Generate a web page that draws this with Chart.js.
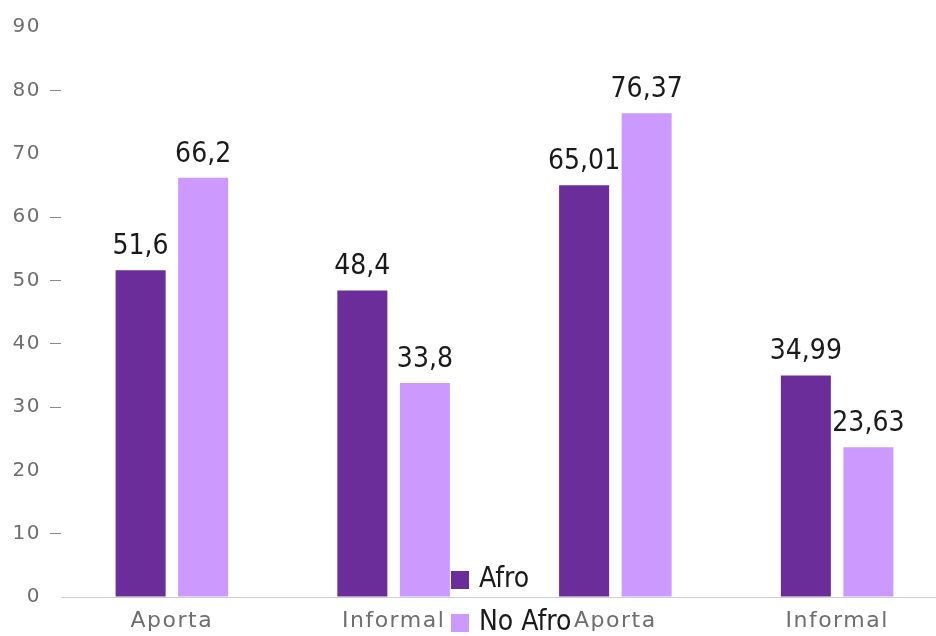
<!DOCTYPE html>
<html>
<head>
<meta charset="utf-8">
<script src="https://cdn.jsdelivr.net/npm/chart.js@4.4.1/dist/chart.umd.min.js"></script>
<style>
  body { margin: 0; background: #fff; overflow: hidden; }
  #wrap { width: 948px; height: 636px; }
</style>
</head>
<body>
<div id="wrap"><canvas id="chart" width="948" height="636"></canvas></div>
<script>
const categories = ['Aporta', 'Informal', 'Aporta', 'Informal'];
const afro = [51.6, 48.4, 65.01, 34.99];
const noAfro = [66.2, 33.8, 76.37, 23.63];
const yTicks = [0, 10, 20, 30, 40, 50, 60, 70, 80, 90];
// only some y ticks get the little dash
const dashedTicks = [10, 30, 40, 50, 60, 80];

const labelFont = "'Liberation Sans Narrow', 'DejaVu Sans Condensed', sans-serif";
const axisFont = "'DejaVu Sans', sans-serif";

const fmt = v => String(v).replace('.', ',');

// spaced-out axis text, plain text everywhere else
const spacing = {
    id: 'spacing',
    beforeDraw(chart) { chart.ctx.letterSpacing = '1.5px'; },
    beforeDatasetsDraw(chart) { chart.ctx.letterSpacing = '0px'; }
};

const valueLabels = {
    id: 'valueLabels',
    afterDatasetsDraw(chart) {
        const ctx = chart.ctx;
        ctx.save();
        ctx.font = '28px ' + labelFont;
        ctx.fillStyle = '#1a1a1a';
        ctx.textAlign = 'center';
        ctx.textBaseline = 'alphabetic';
        chart.data.datasets.forEach((ds, i) => {
            chart.getDatasetMeta(i).data.forEach((bar, j) => {
                ctx.fillText(fmt(ds.data[j]), bar.x, bar.y - 16);
            });
        });
        ctx.restore();
    }
};

const legendBox = {
    id: 'legendBox',
    afterDraw(chart) {
        const ctx = chart.ctx;
        ctx.save();
        ctx.font = '28px ' + labelFont;
        ctx.textBaseline = 'middle';
        chart.data.datasets.forEach((ds, i) => {
            const y = 580 + i * 43;
            ctx.fillStyle = ds.backgroundColor;
            ctx.fillRect(451, y - 9, 18, 18);
            ctx.fillStyle = '#1a1a1a';
            ctx.fillText(ds.label, 479, y);
        });
        ctx.restore();
    }
};

new Chart(document.getElementById('chart'), {
    type: 'bar',
    data: {
        labels: categories,
        datasets: [
            { label: 'Afro', data: afro, backgroundColor: '#6b2d9a' },
            { label: 'No Afro', data: noAfro, backgroundColor: '#cc99ff' }
        ]
    },
    options: {
        responsive: false,
        animation: false,
        layout: { padding: { top: 27, right: 0, bottom: 0, left: 0 } },
        datasets: { bar: { categoryPercentage: 0.564, barPercentage: 0.8 } },
        plugins: { legend: { display: false }, tooltip: { enabled: false } },
        scales: {
            x: {
                afterFit(scale) { scale.height = 39; },
                grid: { display: false, drawTicks: false },
                border: { color: '#cfcfcf', width: 1 },
                ticks: { color: '#6e6e6e', font: { family: axisFont, size: 22 }, padding: 11 }
            },
            y: {
                min: 0,
                max: 90,
                afterFit(scale) { scale.width = 61; },
                afterBuildTicks(scale) { scale.ticks = yTicks.map(v => ({ value: v })); },
                grid: {
                    drawOnChartArea: false,
                    drawTicks: true,
                    tickLength: 11,
                    tickColor: c => dashedTicks.includes(c.tick && c.tick.value) ? '#8a8a8a' : 'rgba(0,0,0,0)'
                },
                border: { display: false },
                ticks: { color: '#6e6e6e', font: { family: axisFont, size: 20 }, padding: 9 }
            }
        }
    },
    plugins: [spacing, valueLabels, legendBox]
});
</script>
</body>
</html>
